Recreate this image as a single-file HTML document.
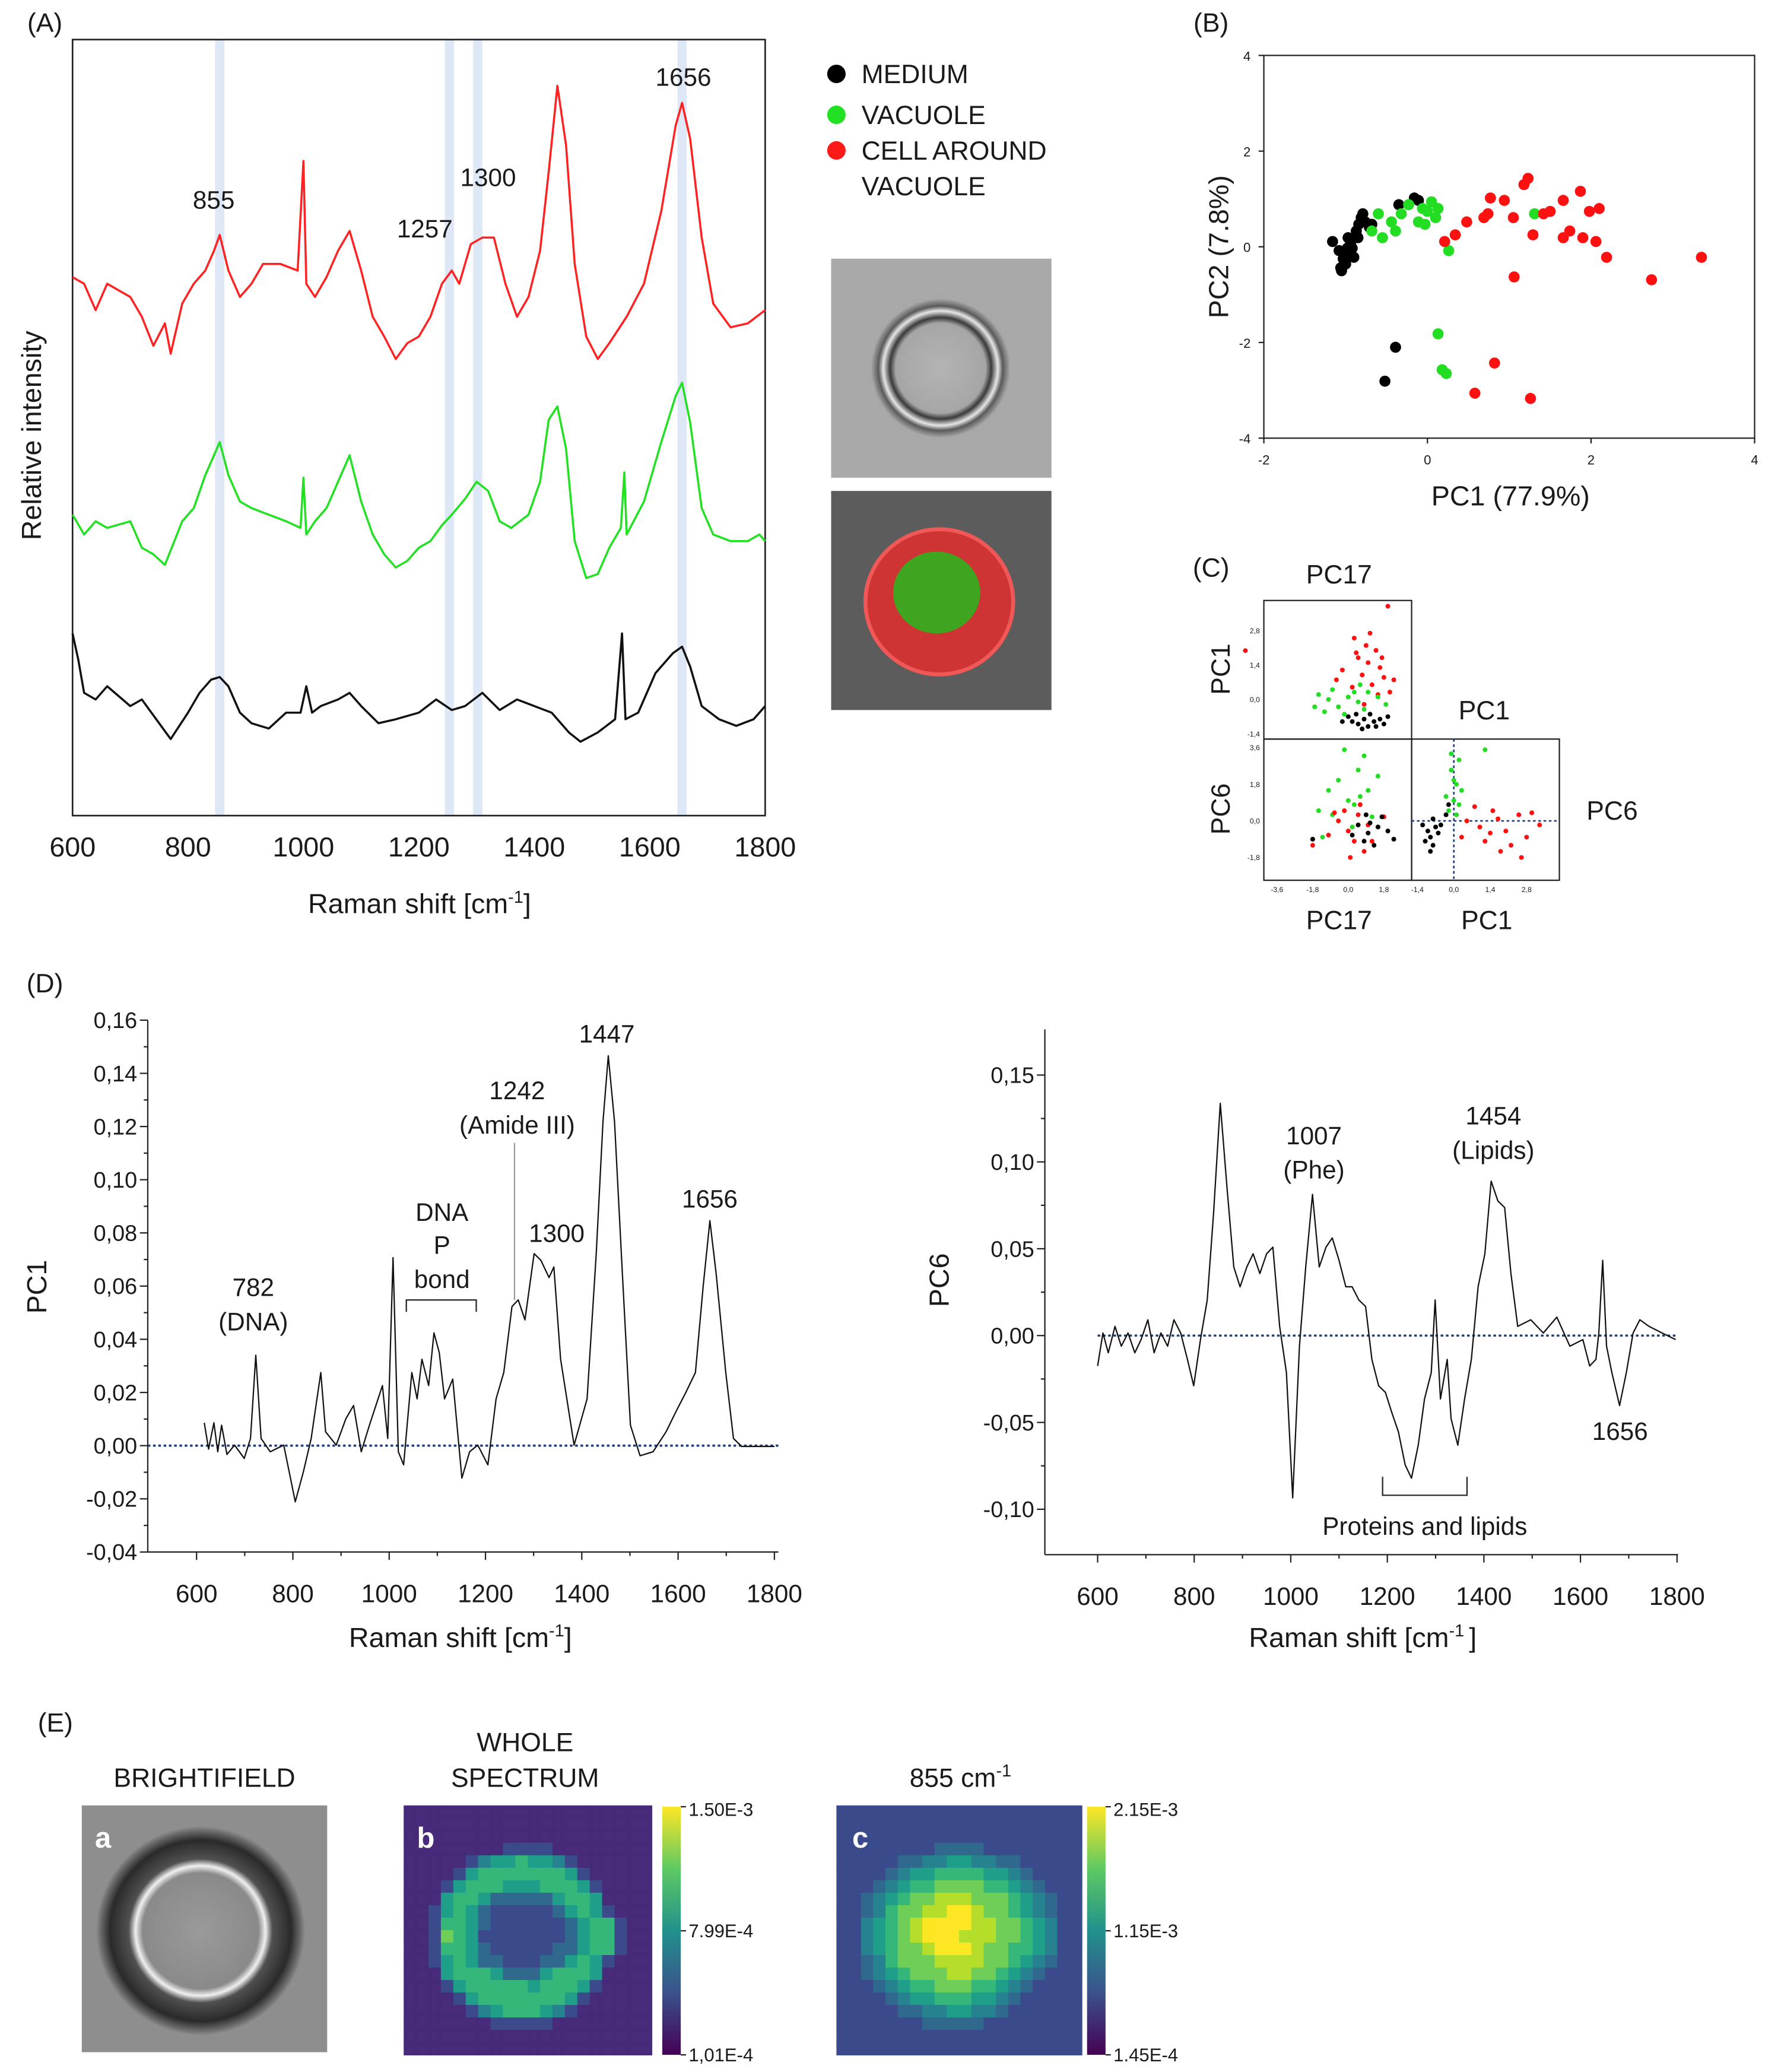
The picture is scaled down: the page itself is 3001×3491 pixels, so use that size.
<!DOCTYPE html>
<html><head><meta charset="utf-8">
<style>
html,body{margin:0;padding:0;background:#fff;}
svg{display:block;font-family:"Liberation Sans",sans-serif;}
</style></head>
<body>
<svg id="fig" xmlns="http://www.w3.org/2000/svg" width="3001" height="3491" viewBox="0 0 1350 1570" preserveAspectRatio="none">
<defs>
<linearGradient id="viri" x1="0" y1="1" x2="0" y2="0">
<stop offset="0" stop-color="#440154"/><stop offset="0.25" stop-color="#3b528b"/><stop offset="0.5" stop-color="#21918c"/><stop offset="0.75" stop-color="#5ec962"/><stop offset="1" stop-color="#fde725"/>
</linearGradient>
<radialGradient id="bfA" cx="0.5" cy="0.5" r="0.5"><stop offset="0" stop-color="#b4b4b4"/><stop offset="0.55" stop-color="#a6a6a6"/><stop offset="0.62" stop-color="#3a3a3a"/><stop offset="0.7" stop-color="#e6e6e6"/><stop offset="0.76" stop-color="#5a5a5a"/><stop offset="0.85" stop-color="#a8a8a8"/><stop offset="1" stop-color="#a8a8a8"/></radialGradient>
<radialGradient id="bfE" cx="0.5" cy="0.5" r="0.5"><stop offset="0" stop-color="#9a9a9a"/><stop offset="0.5" stop-color="#8a8a8a"/><stop offset="0.56" stop-color="#f0f0f0"/><stop offset="0.62" stop-color="#505050"/><stop offset="0.78" stop-color="#2a2a2a"/><stop offset="0.86" stop-color="#6a6a6a"/><stop offset="0.9" stop-color="#8e8e8e"/><stop offset="1" stop-color="#8e8e8e"/></radialGradient>
</defs>
</svg>
<script>
// ---------- DATA ----------
const redWn=[600,620,640,660,700,720,740,760,770,790,810,830,845,855,870,890,910,930,960,990,1000,1005,1020,1040,1060,1080,1100,1120,1140,1160,1180,1200,1220,1240,1257,1270,1290,1310,1330,1350,1370,1390,1410,1425,1440,1455,1470,1490,1510,1530,1560,1590,1620,1645,1656,1670,1690,1710,1740,1770,1800];
const redI=[408,403,383,403,393,378,356,373,350,388,403,413,428,440,413,393,403,418,418,413,496,403,393,408,428,443,413,378,363,346,358,363,378,403,413,403,433,438,438,403,378,393,428,488,553,508,418,363,346,358,378,403,458,523,540,513,438,388,370,373,383];
const greenWn=[600,620,640,660,700,720,740,760,790,810,830,845,855,870,890,910,940,970,995,1000,1005,1020,1040,1060,1080,1100,1120,1140,1160,1180,1200,1220,1240,1257,1280,1300,1320,1340,1360,1390,1410,1425,1440,1455,1470,1490,1510,1530,1550,1556,1560,1590,1620,1645,1656,1670,1690,1710,1740,1770,1790,1800];
const greenI=[228,213,223,218,223,203,198,190,223,233,258,273,283,258,238,233,228,223,218,256,213,223,233,253,273,238,213,198,188,193,203,208,220,228,240,253,246,223,218,228,253,300,310,278,208,180,183,203,218,260,213,238,283,318,328,298,233,213,208,208,213,208];
const blackWn=[600,610,620,640,660,700,720,750,770,800,820,840,855,870,890,910,940,970,995,1005,1015,1030,1060,1080,1100,1130,1160,1200,1230,1257,1280,1310,1340,1370,1400,1430,1460,1480,1510,1540,1552,1558,1580,1610,1640,1656,1670,1690,1720,1750,1780,1800];
const blackI=[138,118,93,88,98,83,88,70,58,78,93,103,105,98,78,70,66,78,78,98,78,83,88,93,83,70,73,78,88,80,83,93,80,88,83,78,63,56,63,73,138,73,78,108,123,128,113,83,73,68,73,83];
const bandsA=[855,1253,1302,1656];
const xTicksA=[600,800,1000,1200,1400,1600,1800];

const bBlack=[[-1.16,0.11],[-1.08,-0.08],[-1.03,-0.25],[-1.0,-0.36],[-1.05,-0.5],[-0.97,0.19],[-0.92,-0.03],[-0.87,0.33],[-0.84,0.47],[-0.9,-0.22],[-0.81,0.61],[-1.0,-0.17],[-0.76,0.52],[-0.94,0.06],[-0.71,0.41],[-0.85,0.19],[-0.79,0.69],[-1.06,-0.44],[-0.98,-0.03],[-0.68,0.47],[-0.35,0.88],[-0.16,1.02],[-0.11,0.97],[-0.39,-2.1],[-0.52,-2.81]];
const bGreen=[[-0.6,0.69],[-0.44,0.52],[-0.39,0.33],[-0.32,0.69],[-0.23,0.88],[-0.68,0.33],[-0.55,0.19],[-0.06,0.8],[0,0.74],[0.05,0.94],[0.13,0.8],[-0.03,0.47],[-0.11,0.52],[0.1,0.61],[0.26,-0.08],[1.31,0.69],[0.13,-1.82],[0.18,-2.57],[0.23,-2.65]];
const bRed=[[0.21,0.11],[0.34,0.25],[0.48,0.52],[0.69,0.61],[0.77,1.02],[0.74,0.69],[0.94,0.97],[1.05,0.61],[1.18,1.3],[1.23,1.43],[1.42,0.69],[1.5,0.74],[1.66,0.97],[1.74,0.33],[1.87,1.16],[1.98,0.74],[1.9,0.19],[2.06,0.11],[2.1,0.8],[2.19,-0.22],[1.66,0.19],[1.29,0.25],[1.06,-0.63],[2.74,-0.69],[3.35,-0.22],[0.82,-2.43],[0.58,-3.06],[1.26,-3.17]];
const bXTicks=[-2,0,2,4];
const bYTicks=[-4,-2,0,2,4];

const tlRed=[[0.3,2.5],[0.9,2.2],[1.4,2.0],[2.0,3.8],[0.5,1.7],[1.0,1.5],[1.6,1.3],[-0.3,1.2],[0.7,1.0],[1.8,0.9],[1.2,0.6],[0.2,0.5],[2.1,0.3],[1.5,0.2],[0.8,-0.2],[-0.6,0.8],[1.1,2.7],[0.4,1.9],[2.3,0.8],[1.7,1.7]];
const tlGreen=[[-1.5,0.2],[-1.0,0.0],[-0.5,-0.3],[0.0,0.1],[0.5,-0.1],[1.0,0.3],[-1.2,-0.5],[-0.2,-0.6],[0.8,-0.4],[1.5,0.1],[-0.8,0.4],[0.3,0.3],[1.9,-0.2],[-1.7,-0.3],[0.6,0.6]];
const tlBlack=[[0.2,-0.9],[0.5,-1.0],[0.8,-0.8],[1.0,-1.1],[1.3,-0.9],[1.6,-0.8],[0.0,-0.7],[0.4,-0.6],[1.1,-0.6],[1.8,-1.0],[-0.3,-0.9],[0.7,-1.2],[1.4,-1.1],[2.0,-0.7]];
const blGreen=[[-1.0,1.5],[-0.5,2.0],[0.0,1.0],[0.5,2.5],[1.0,1.5],[-1.5,0.5],[-0.8,0.3],[0.3,0.8],[1.5,2.2],[0.8,3.2],[-1.3,-0.8],[0.2,-0.3],[1.2,0.2],[-0.2,3.5],[0.6,1.2]];
const blRed=[[-0.5,0.0],[0.0,-0.5],[0.5,0.3],[1.0,-0.2],[-1.0,-0.7],[0.3,-1.0],[0.8,-1.5],[-0.2,0.5],[1.5,-0.3],[-1.8,-1.2],[0.6,0.8],[1.2,-1.0],[-0.7,0.4],[0.1,-1.8],[1.8,0.2]];
const blBlack=[[0.5,-0.2],[1.0,-0.6],[1.5,-0.3],[0.8,-1.0],[2.0,-0.5],[1.3,-1.2],[0.2,-0.7],[1.7,0.2],[0.9,0.3],[2.3,-0.9],[-1.8,-0.9],[1.1,-0.1]];
const brBlack=[[-1.0,-0.5],[-0.9,-0.8],[-0.8,-1.2],[-1.1,-1.0],[-0.7,-0.3],[-0.6,-0.6],[-0.9,-1.5],[-0.5,-0.2],[-0.3,0.3],[-0.2,0.8],[-1.2,-0.2],[-0.8,0.1]];
const brGreen=[[-0.2,0.5],[0.0,1.0],[0.1,1.8],[-0.1,2.5],[0.2,3.0],[0.0,2.0],[-0.3,1.2],[0.1,0.3],[0.3,1.5],[1.2,3.5],[-0.1,3.3],[0.2,0.8]];
const brRed=[[0.5,0.0],[1.0,-0.3],[1.5,0.5],[2.0,-0.5],[2.5,0.3],[1.2,-1.0],[1.8,-1.5],[2.8,-0.8],[0.8,0.7],[3.0,0.4],[2.2,-1.2],[1.4,-0.6],[0.3,-0.8],[2.6,-1.8],[1.7,0.1],[3.3,-0.2]];
const cTopYTicks=[2.8,1.4,0.0,-1.4];
const cBotYTicks=[3.6,1.8,0.0,-1.8];
const cX17Ticks=[-3.6,-1.8,0.0,1.8];
const cX1Ticks=[-1.4,0.0,1.4,2.8];

const pc1Wn=[616,625,636,644,652,663,679,699,712,723,734,753,781,805,822,838,858,868,890,910,926,942,959,986,997,1008,1019,1030,1047,1058,1068,1082,1093,1104,1115,1132,1151,1167,1184,1205,1222,1238,1255,1268,1282,1301,1315,1332,1342,1356,1384,1411,1430,1444,1455,1468,1485,1501,1521,1548,1575,1595,1616,1636,1652,1666,1679,1699,1715,1732,1767,1800];
const pc1Val=[0.0086,-0.0013,0.0086,-0.0023,0.0077,-0.0033,0.0002,-0.0048,0.0027,0.034,0.0027,-0.0023,0.0002,-0.0211,-0.0097,0.0027,0.0275,0.0052,0.0002,0.0101,0.0151,-0.0023,0.0077,0.0226,0.0027,0.0707,-0.0023,-0.0072,0.0275,0.0176,0.0325,0.0226,0.0424,0.035,0.0176,0.025,-0.0122,-0.0023,0.0002,-0.0072,0.0176,0.0275,0.0523,0.0548,0.0473,0.0722,0.0697,0.0632,0.0672,0.0325,0.0002,0.0176,0.0722,0.1218,0.1466,0.1218,0.0622,0.0077,-0.0038,-0.0023,0.0052,0.0126,0.02,0.0275,0.0598,0.0846,0.0647,0.0275,0.0027,-0.0003,-0.0003,-0.0003];
const pc1YTicks=[-0.04,-0.02,0,0.02,0.04,0.06,0.08,0.10,0.12,0.14,0.16];
const pcXTicks=[600,800,1000,1200,1400,1600,1800];

const pc6Wn=[600,611,622,636,649,663,677,690,704,717,731,745,758,772,786,799,813,827,840,854,868,882,895,909,922,936,950,963,977,991,1004,1018,1031,1045,1059,1073,1086,1100,1114,1127,1141,1155,1168,1182,1196,1209,1223,1237,1250,1264,1277,1291,1299,1310,1324,1332,1346,1360,1374,1388,1402,1415,1429,1443,1456,1470,1497,1523,1551,1578,1605,1619,1632,1638,1646,1654,1665,1681,1695,1709,1723,1742,1769,1797];
const pc6Val=[-0.0175,0.0015,-0.0099,0.0053,-0.0061,0.0015,-0.0099,-0.0023,0.0091,-0.0099,0.0015,-0.0061,0.0091,0.0015,-0.0137,-0.0289,-0.0023,0.0205,0.0699,0.1337,0.0851,0.0395,0.0281,0.0395,0.0471,0.0357,0.0471,0.0509,0.0053,-0.0213,-0.0935,-0.0061,0.0395,0.0813,0.0395,0.0509,0.0562,0.0433,0.0281,0.0281,0.0205,0.0167,-0.0137,-0.0289,-0.0327,-0.0441,-0.0555,-0.0745,-0.0821,-0.0631,-0.0365,-0.0213,0.0205,-0.0365,-0.0137,-0.0479,-0.0631,-0.0365,-0.0137,0.0281,0.0471,0.0889,0.0775,0.0737,0.0357,0.0053,0.0091,0.0015,0.0106,-0.0061,-0.0023,-0.0175,-0.0137,0.0015,0.0433,-0.0061,-0.0213,-0.0403,-0.0213,0.0015,0.0091,0.0053,0.0015,-0.0023];
const pc6YTicks=[-0.10,-0.05,0,0.05,0.10,0.15];

const heatB=["11111111111111111111","11111111111111111111","11111111111111111111","11111111222211111111","11111245565542111111","11112566666665211111","11125666555666521111","11156653333356651111","11256532222235652111","11266532222223566211","11276522222223566211","11266532222233566211","11256533222335652111","11156665333566651111","11125666665666521111","11112566666665211111","11111245666542111111","11111112222211111111","11111111111111111111","11111111111111111111"];
const heatC=["22222222222222222222","22222222222222222222","22222222222222222222","22222222333322222222","22222334455443322222","22223455666655432222","22234566777766543222","22345677888777654322","22346778899877654322","22456789999887765422","22456789998887765422","22456778999877665422","22346777888877654322","22345677788776543222","22234566777665432222","22223455666554322222","22222334455443222222","22222223333322222222","22222222222222222222","22222222222222222222"];
const viridis=["#440154","#472a7a","#3b4a8a","#31688e","#26828e","#1f9e89","#35b779","#6ece58","#b5de2b","#fde725"];

// ---------- HELPERS ----------
const NS="http://www.w3.org/2000/svg";
const svg=document.getElementById('fig');
function mk(tag,a,p){const e=document.createElementNS(NS,tag);for(const k in a)e.setAttribute(k,a[k]);(p||svg).appendChild(e);return e;}
function txt(x,y,s,size,anchor,extra){const e=mk('text',Object.assign({x:x,y:y,'font-size':size,'text-anchor':anchor||'middle',fill:'#1a1a1a'},extra||{}));e.textContent=s;return e;}
function comma(v,d){return v.toFixed(d).replace('.',',');}

// ---------- PANEL A ----------
const xA=w=>55+(w-600)*525/1200;
const yA=v=>618-v;
let t=txt(34,24,'(A)',20,'middle');


bandsA.forEach(b=>{const r=mk('rect',{x:xA(b)-3.5,y:30,width:7,height:588,fill:'#dde7f6'});

});
let fr=mk('rect',{x:55,y:30,width:525,height:588,fill:'none',stroke:'#222','stroke-width':1.2});


function spec(wn,vals,col,name){const pts=wn.map((w,i)=>xA(w)+','+yA(vals[i])).join(' ');
const l=mk('polyline',{points:pts,fill:'none',stroke:col,'stroke-width':1.6,'stroke-linejoin':'round'});

}
spec(redWn,redI,'#ff2222','spectrum-cell-around-vacuole');
spec(greenWn,greenI,'#22e022','spectrum-vacuole');
spec(blackWn,blackI,'#111','spectrum-medium');
xTicksA.forEach(v=>{const e=txt(xA(v),649,String(v),21);

});
t=txt(318,692,'Raman shift [cm',21);t.innerHTML='Raman shift [cm<tspan font-size="13" dy="-8">-1</tspan><tspan dy="8">]</tspan>';


t=txt(0,0,'Relative intensity',21,'middle',{transform:'translate(31,330) rotate(-90)'});


[['855',162,158],['1257',322,180],['1300',370,141],['1656',518,65]].forEach(a=>{const e=txt(a[1],a[2],a[0],19);

});
// legend
[['MEDIUM','#000',56],['VACUOLE','#22e022',87],['CELL AROUND','#ff1a1a',114]].forEach(a=>{
const c=mk('circle',{cx:634,cy:a[2],r:7,fill:a[1]});


const e=txt(653,a[2]+7,a[0],20,'start');

});
t=txt(653,148,'VACUOLE',20,'start');


// images
let g=mk('rect',{x:630,y:196,width:167,height:166,fill:'#a9a9a9'});


g=mk('circle',{cx:713,cy:279,r:62,fill:'url(#bfA)'});


g=mk('rect',{x:630,y:372,width:167,height:166,fill:'#5c5c5c'});


g=mk('ellipse',{cx:712,cy:456,rx:56,ry:55,fill:'#cf3434',stroke:'#f05858','stroke-width':3});


g=mk('ellipse',{cx:710,cy:449,rx:33,ry:31,fill:'#3fa51f'});



// ---------- PANEL B ----------
const xB=v=>1082+v*62;
const yB=v=>187-v*36.25;
t=txt(918,24,'(B)',20);


fr=mk('rect',{x:958,y:42,width:372,height:290,fill:'none',stroke:'#222','stroke-width':1});


bXTicks.forEach(v=>{const e=txt(xB(v),352,String(v),10);


mk('line',{x1:xB(v),x2:xB(v),y1:332,y2:336,stroke:'#222'});});
bYTicks.forEach(v=>{const e=txt(948,yB(v)+4,String(v),10,'end');


mk('line',{x1:954,x2:958,y1:yB(v),y2:yB(v),stroke:'#222'});});
t=txt(1145,383,'PC1 (77.9%)',21);


t=txt(0,0,'PC2 (7.8%)',21,'middle',{transform:'translate(931,187) rotate(-90)'});


[[bBlack,'#000','medium'],[bGreen,'#22dd22','vacuole'],[bRed,'#ff1010','cell']].forEach(s=>s[0].forEach(p=>{
const c=mk('circle',{cx:xB(p[0]),cy:yB(p[1]),r:4.2,fill:s[1]});

}));

// ---------- PANEL C ----------
const xC17=v=>1022+v*15;
const yCT=v=>530-v*18.6;
const yCB=v=>622-v*15.4;
const xC1=v=>1102+v*19.7;
t=txt(918,437,'(C)',20);


[[958,455,112,105],[958,560,112,107],[1070,560,112,107]].forEach(b=>{const r=mk('rect',{x:b[0],y:b[1],width:b[2],height:b[3],fill:'none',stroke:'#222','stroke-width':1});

});
let dl=mk('line',{x1:1070,x2:1182,y1:yCB(0),y2:yCB(0),stroke:'#1f3b7a','stroke-width':1.2,'stroke-dasharray':'2,2'});


dl=mk('line',{x1:xC1(0),x2:xC1(0),y1:560,y2:667,stroke:'#1f3b7a','stroke-width':1.2,'stroke-dasharray':'2,2'});


function cpts(arr,fx,fy,col,name){arr.forEach(p=>{const c=mk('circle',{cx:fx(p[0]),cy:fy(p[1]),r:1.8,fill:col});

});}
cpts(tlRed,xC17,yCT,'#ff1010','point-cell');cpts(tlGreen,xC17,yCT,'#22dd22','point-vacuole');cpts(tlBlack,xC17,yCT,'#000','point-medium');
cpts(blGreen,xC17,yCB,'#22dd22','point-vacuole');cpts(blRed,xC17,yCB,'#ff1010','point-cell');cpts(blBlack,xC17,yCB,'#000','point-medium');
cpts(brBlack,xC1,yCB,'#000','point-medium');cpts(brGreen,xC1,yCB,'#22dd22','point-vacuole');cpts(brRed,xC1,yCB,'#ff1010','point-cell');
let c0=mk('circle',{cx:944,cy:493,r:1.8,fill:'#ff1010'});


cTopYTicks.forEach(v=>{const e=txt(955,yCT(v)+2,comma(v,1),5.5,'end');

});
cBotYTicks.forEach(v=>{const e=txt(955,yCB(v)+2,comma(v,1),5.5,'end');

});
cX17Ticks.forEach(v=>{const e=txt(xC17(v),676,comma(v,1),5.5);

});
cX1Ticks.forEach(v=>{const e=txt(xC1(v),676,comma(v,1),5.5);

});
[['PC17',1015,442,0],['PC1',1125,545,0],['PC6',1222,621,0],['PC17',1015,704,0],['PC1',1127,704,0],['PC1',932,507,1],['PC6',932,613,1]].forEach(a=>{
const e=a[3]?txt(0,0,a[0],20,'middle',{transform:'translate('+a[1]+','+a[2]+') rotate(-90)'}):txt(a[1],a[2],a[0],20);

});

// ---------- PANEL D ----------
t=txt(34,752,'(D)',20);


function lineChart(opt){
 const {xf,yf,xAxisY,yAxisX,yTop,xEnd,yTicks,wn,val,name,dec,xStart}=opt;
 let l=mk('line',{x1:yAxisX,x2:yAxisX,y1:yTop,y2:xAxisY,stroke:'#222','stroke-width':1});
 
 
 l=mk('line',{x1:yAxisX,x2:xEnd,y1:xAxisY,y2:xAxisY,stroke:'#222','stroke-width':1});
 
 
 yTicks.forEach((v,i)=>{mk('line',{x1:yAxisX-6,x2:yAxisX,y1:yf(v),y2:yf(v),stroke:'#222'});
  if(i<yTicks.length-1){const m=(v+yTicks[i+1])/2;mk('line',{x1:yAxisX-3,x2:yAxisX,y1:yf(m),y2:yf(m),stroke:'#222'});}
  const e=txt(yAxisX-8,yf(v)+6,comma(v,dec),17,'end');
  
  });
 pcXTicks.forEach((v,i)=>{mk('line',{x1:xf(v),x2:xf(v),y1:xAxisY,y2:xAxisY+6,stroke:'#222'});
  if(i<pcXTicks.length-1)mk('line',{x1:xf(v+100),x2:xf(v+100),y1:xAxisY,y2:xAxisY+3,stroke:'#222'});
  const e=txt(xf(v),xAxisY+38,String(v),19);
  
  });
 l=mk('line',{x1:xStart,x2:xEnd,y1:yf(0),y2:yf(0),stroke:'#1f3b7a','stroke-width':1.6,'stroke-dasharray':'2,2'});
 
 
 const p=mk('polyline',{points:wn.map((w,i)=>xf(w)+','+yf(val[i])).join(' '),fill:'none',stroke:'#111','stroke-width':1,'stroke-linejoin':'round'});
 
 
}
const xD1=w=>149+(w-600)*0.365;
const yD1=v=>1095.4-v*2015;
lineChart({xf:xD1,yf:yD1,xAxisY:1176,yAxisX:112,yTop:773,xEnd:590,xStart:112,yTicks:pc1YTicks,wn:pc1Wn,val:pc1Val,name:'pc1-loading-line',dec:2});
t=txt(349,1248,'',21);t.innerHTML='Raman shift  [cm<tspan font-size="13" dy="-8">-1</tspan><tspan dy="8">]</tspan>';


t=txt(0,0,'PC1',21,'middle',{transform:'translate(35,975) rotate(-90)'});


[['782',192,982],['(DNA)',192,1008],['DNA',335,925],['P',335,950],['bond',335,976],['1242',392,833],['(Amide III)',392,859],['1300',422,941],['1447',460,790],['1656',538,915]].forEach(a=>{const e=txt(a[1],a[2],a[0],19);

});
let br=mk('path',{d:'M308,994 V985 H361 V994',fill:'none',stroke:'#222','stroke-width':1});


br=mk('line',{x1:390,x2:390,y1:866,y2:985,stroke:'#999','stroke-width':1});



const xD2=w=>832+(w-600)*0.366;
const yD2=v=>1012-v*1316;
lineChart({xf:xD2,yf:yD2,xAxisY:1178,yAxisX:792,yTop:780,xEnd:1272,xStart:832,yTicks:pc6YTicks,wn:pc6Wn,val:pc6Val,name:'pc6-loading-line',dec:2});
t=txt(1033,1248,'',21);t.innerHTML='Raman shift  [cm<tspan font-size="13" dy="-8">-1 </tspan><tspan dy="8">]</tspan>';


t=txt(0,0,'PC6',21,'middle',{transform:'translate(719,970) rotate(-90)'});


[['1007',996,867],['(Phe)',996,893],['1454',1132,852],['(Lipids)',1132,878],['1656',1228,1091],['Proteins and lipids',1080,1163]].forEach(a=>{const e=txt(a[1],a[2],a[0],19);

});
br=mk('path',{d:'M1048,1119 V1133 H1112 V1119',fill:'none',stroke:'#222','stroke-width':1});



// ---------- PANEL E ----------
t=txt(42,1312,'(E)',20);


[['BRIGHTIFIELD',155,1354],['WHOLE',398,1327],['SPECTRUM',398,1354]].forEach(a=>{const e=txt(a[1],a[2],a[0],20);

});
t=txt(728,1354,'',20);t.innerHTML='855 cm<tspan font-size="13" dy="-8">-1</tspan>';


g=mk('rect',{x:62,y:1368,width:186,height:187,fill:'#8e8e8e'});


g=mk('circle',{cx:152,cy:1463,r:88,fill:'url(#bfE)'});


function heat(rows,x0,y0,w,h,name){const n=rows.length,cw=w/rows[0].length,ch=h/n;
 rows.forEach((r,i)=>{for(let j=0;j<r.length;j++){const c=mk('rect',{x:x0+j*cw,y:y0+i*ch,width:cw+0.4,height:ch+0.4,fill:viridis[+r[j]]});
 
 }});}
heat(heatB,306,1368,188,189,'heatmap-cell-whole');
heat(heatC,634,1368,186,189,'heatmap-cell-855');
[['a',72,1400],['b',316,1400],['c',646,1400]].forEach(a=>{const e=txt(a[1],a[2],a[0],22,'start',{fill:'#fff','font-weight':'bold'});

});
[[502,['1.50E-3','7.99E-4','1,01E-4']],[824,['2.15E-3','1.15E-3','1.45E-4']]].forEach(cb=>{
 const r=mk('rect',{x:cb[0],y:1369,width:14,height:188,fill:'url(#viri)'});
 
 
 cb[1].forEach((s,i)=>{const y=1369+i*94;mk('line',{x1:cb[0]+14,x2:cb[0]+18,y1:y,y2:y,stroke:'#222'});
 const e=txt(cb[0]+20,y+5+(i==0?2:0)-(i==2?0:0),s,14,'start');
 
 });
});
</script>
</body></html>
